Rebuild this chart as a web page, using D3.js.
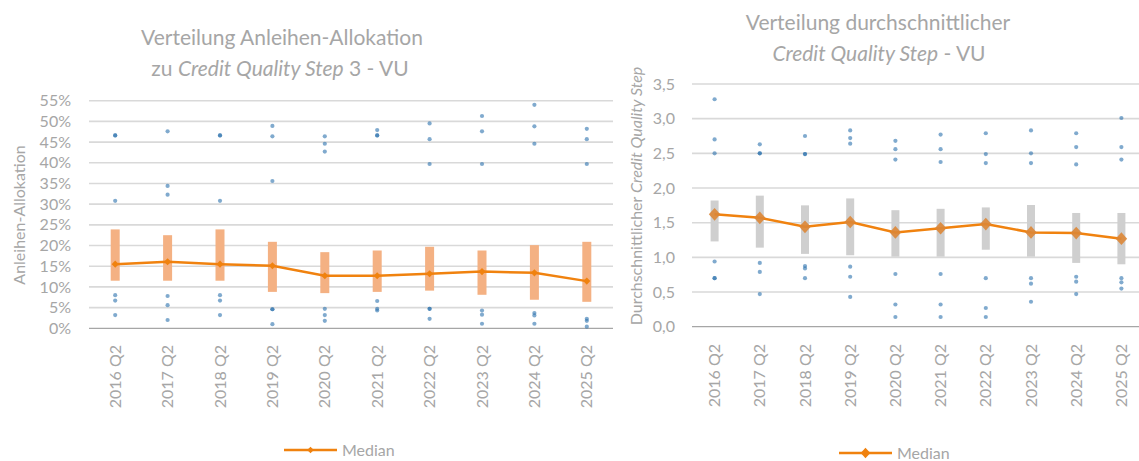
<!DOCTYPE html>
<html>
<head>
<meta charset="utf-8">
<script src="https://cdn.jsdelivr.net/npm/d3@7"></script>
<style>
  html, body { margin: 0; padding: 0; background: #fff; }
  svg { display: block; font-family: Lato, "Open Sans", sans-serif; }
</style>
</head>
<body>
<svg id="chart" width="1139" height="461"></svg>
<script>
// Reporting dates (x axis)
const categories = ["2016 Q2", "2017 Q2", "2018 Q2", "2019 Q2", "2020 Q2",
                    "2021 Q2", "2022 Q2", "2023 Q2", "2024 Q2", "2025 Q2"];

// Left panel: bond allocation to CQS 3, in percent
const allocTicks = [0, 5, 10, 15, 20, 25, 30, 35, 40, 45, 50, 55];
const allocMedian = [15.5, 16.1, 15.5, 15.1, 12.7, 12.7, 13.2, 13.7, 13.4, 11.4];
const allocLow    = [11.5, 11.5, 11.5, 8.8, 8.5, 8.8, 9.1, 8.1, 6.9, 6.4];
const allocHigh   = [23.9, 22.5, 23.9, 20.9, 18.4, 18.8, 19.7, 18.8, 20.1, 20.9];
const allocPoints = [
  [46.6, 46.6, 30.8, 8.0, 6.7, 3.2],
  [47.6, 34.4, 32.3, 7.8, 5.6, 2.0],
  [46.6, 46.6, 30.8, 8.0, 6.7, 3.2],
  [48.9, 46.4, 35.6, 4.6, 4.6, 1.0],
  [46.4, 44.6, 42.7, 4.7, 3.2, 1.8],
  [47.9, 46.6, 46.6, 6.6, 4.7, 4.3],
  [49.5, 45.7, 39.7, 4.7, 4.7, 2.3],
  [51.3, 47.6, 39.7, 4.3, 3.3, 1.1],
  [54.0, 48.8, 44.6, 3.7, 3.1, 1.1],
  [48.2, 45.7, 39.7, 2.3, 1.8, 0.4]
];

// Right panel: average credit quality step
const cqsTicks = [0, 0.5, 1, 1.5, 2, 2.5, 3, 3.5];
const cqsMedian = [1.62, 1.57, 1.44, 1.51, 1.36, 1.42, 1.48, 1.36, 1.35, 1.27];
const cqsLow    = [1.23, 1.14, 1.05, 1.03, 1.01, 1.01, 1.11, 1.01, 0.92, 0.90];
const cqsHigh   = [1.82, 1.89, 1.75, 1.85, 1.68, 1.70, 1.72, 1.755, 1.64, 1.64];
const cqsPoints = [
  [3.28, 2.70, 2.50, 0.94, 0.70, 0.70],
  [2.63, 2.50, 2.50, 0.92, 0.79, 0.47],
  [2.75, 2.49, 2.49, 0.875, 0.84, 0.70],
  [2.83, 2.72, 2.64, 0.865, 0.72, 0.43],
  [2.68, 2.56, 2.41, 0.76, 0.32, 0.14],
  [2.77, 2.56, 2.375, 0.76, 0.32, 0.14],
  [2.79, 2.49, 2.36, 0.70, 0.27, 0.14],
  [2.83, 2.50, 2.36, 0.70, 0.62, 0.36],
  [2.79, 2.59, 2.34, 0.72, 0.65, 0.47],
  [3.01, 2.59, 2.41, 0.70, 0.64, 0.55]
];

const TEXT = "#a6a6a6";
const GRID = "#d9d9d9";
const AXIS = "#a6a6a6";
const ORANGE = "#f0820f";
const DOT = "#2b72ad";

const de = d3.formatLocale({decimal: ",", thousands: ".", grouping: [3], currency: ["", " €"]});
const svg = d3.select("#chart");

function panel(opt) {
  const g = svg.append("g");
  const x = d3.scaleBand().domain(categories).range([opt.x0, opt.x1]);
  const y = d3.scaleLinear().domain(opt.domain).range([opt.yBottom, opt.yTop]);
  const cx = c => x(c) + x.bandwidth() / 2;

  // horizontal gridlines
  g.append("g").selectAll("line").data(opt.ticks.filter(t => t > 0)).join("line")
    .attr("x1", opt.x0).attr("x2", opt.x1)
    .attr("y1", d => y(d)).attr("y2", d => y(d))
    .attr("stroke", GRID).attr("stroke-width", 1.6);

  // y axis labels
  const ya = d3.axisLeft(y).tickValues(opt.ticks).tickFormat(opt.fmt).tickSize(0).tickPadding(0);
  g.append("g").attr("transform", `translate(${opt.labelX},0)`).call(ya)
    .call(s => s.select(".domain").remove())
    .selectAll("text").attr("fill", TEXT).attr("font-size", 16).attr("font-family", "Lato, sans-serif");

  // baseline
  g.append("line").attr("x1", opt.x0).attr("x2", opt.x1)
    .attr("y1", y(0)).attr("y2", y(0)).attr("stroke", AXIS).attr("stroke-width", 1.2);

  // x axis labels (rotated)
  const xa = d3.axisBottom(x).tickSize(0).tickPadding(0);
  const xg = g.append("g").attr("transform", `translate(0,${opt.xLabelY})`).call(xa);
  xg.select(".domain").remove();
  xg.selectAll("text")
    .attr("fill", TEXT).attr("font-size", 16).attr("font-family", "Lato, sans-serif")
    .attr("transform", "rotate(-90)")
    .attr("text-anchor", "end")
    .attr("x", 0).attr("y", 0).attr("dy", "0.35em");

  // interquartile range bars
  const bw = opt.barWidth;
  g.append("g").selectAll("rect").data(categories).join("rect")
    .attr("x", (c) => cx(c) - bw / 2)
    .attr("width", bw)
    .attr("y", (c, i) => y(opt.high[i]))
    .attr("height", (c, i) => y(opt.low[i]) - y(opt.high[i]))
    .attr("fill", opt.barColor);

  // individual outliers
  const pts = [];
  opt.points.forEach((arr, i) => arr.forEach(v => pts.push({c: categories[i], v})));
  g.append("g").selectAll("circle").data(pts).join("circle")
    .attr("cx", d => cx(d.c)).attr("cy", d => y(d.v)).attr("r", 2.1)
    .attr("fill", DOT).attr("fill-opacity", 0.6);

  // median line and markers
  const line = d3.line().x((v, i) => cx(categories[i])).y(v => y(v));
  g.append("path").datum(opt.median).attr("d", line)
    .attr("fill", "none").attr("stroke", ORANGE).attr("stroke-width", 2.5);
  const sym = d3.symbol().type(d3.symbolDiamond2).size(opt.markerSize);
  g.append("g").selectAll("path").data(opt.median).join("path")
    .attr("d", sym)
    .attr("transform", (v, i) => `translate(${cx(categories[i])},${y(v)}) scale(1,${opt.markerStretch})`)
    .attr("fill", opt.markerColor).attr("fill-opacity", opt.markerOpacity);

  // legend
  const lg = g.append("g").attr("transform", `translate(${opt.legendX},${opt.legendY})`);
  lg.append("line").attr("x1", 0).attr("x2", 53).attr("y1", 0).attr("y2", 0)
    .attr("stroke", ORANGE).attr("stroke-width", 2.5);
  lg.append("path").attr("d", d3.symbol().type(d3.symbolDiamond2).size(opt.legendMarker))
    .attr("transform", `translate(26.5,0) scale(1,${opt.markerStretch})`).attr("fill", ORANGE);
  lg.append("text").attr("x", 58).attr("y", 0).attr("dy", "0.35em")
    .attr("fill", TEXT).attr("font-size", 16).text("Median");

  // title
  const t = g.append("text").attr("text-anchor", "middle").attr("fill", TEXT).attr("font-size", 21);
  opt.title.forEach((parts, li) => {
    const tl = t.append("tspan").attr("x", opt.titleX[li]).attr("y", opt.titleY + li * 31);
    parts.forEach(p => tl.append("tspan").attr("font-style", p.i ? "italic" : "normal").text(p.t));
  });

  // y axis title
  const yt = g.append("text").attr("text-anchor", "middle").attr("fill", TEXT).attr("font-size", 16)
    .attr("transform", `translate(${opt.yTitleX},${opt.yTitleY}) rotate(-90)`).attr("dy", "0.35em");
  opt.yTitle.forEach(p => yt.append("tspan").attr("font-style", p.i ? "italic" : "normal").text(p.t));
}

panel({
  x0: 89, x1: 613, domain: [0, 55], yBottom: 328.3, yTop: 100.7,
  ticks: allocTicks, fmt: d => d + "%", labelX: 71, xLabelY: 345,
  barWidth: 9, barColor: "#f4b183",
  low: allocLow, high: allocHigh, median: allocMedian, points: allocPoints,
  markerSize: 32, markerStretch: 1, markerColor: ORANGE, markerOpacity: 1,
  legendX: 284, legendY: 450, legendMarker: 28,
  title: [[{t: "Verteilung Anleihen-Allokation"}], [{t: "zu "}, {t: "Credit Quality Step", i: true}, {t: " 3 - VU"}]],
  titleX: [282, 280], titleY: 45,
  yTitle: [{t: "Anleihen-Allokation"}], yTitleX: 19, yTitleY: 215
});

panel({
  x0: 692, x1: 1144, domain: [0, 3.5], yBottom: 326.7, yTop: 84,
  ticks: cqsTicks, fmt: de.format(".1f"), labelX: 675, xLabelY: 344,
  barWidth: 8, barColor: "#cfcfcf",
  low: cqsLow, high: cqsHigh, median: cqsMedian, points: cqsPoints,
  markerSize: 84, markerStretch: 1.1, markerColor: "#dc8636", markerOpacity: 0.9,
  legendX: 839, legendY: 453, legendMarker: 60,
  title: [[{t: "Verteilung durchschnittlicher"}], [{t: "Credit Quality Step", i: true}, {t: " - VU"}]],
  titleX: [878, 879], titleY: 29.5,
  yTitle: [{t: "Durchschnittlicher "}, {t: "Credit Quality Step", i: true}], yTitleX: 636, yTitleY: 196
});
</script>
</body>
</html>
